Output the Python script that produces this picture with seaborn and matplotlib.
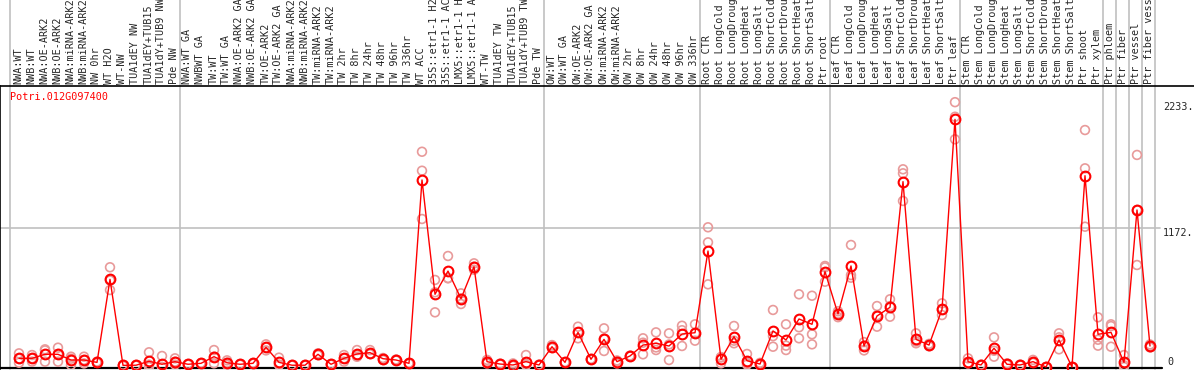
import matplotlib
matplotlib.use("Agg")
import matplotlib.pyplot as plt
import matplotlib.transforms as mtransforms
import numpy as np
import pandas as pd
import seaborn as sns

# sample labels (as shown, already truncated)
labels = [
    "NWA:WT", "NWB:WT", "NWA:OE-ARK2", "NWB:OE-ARK2", "NWA:miRNA-ARK2", "NWB:miRNA-ARK2",
    "NW 0hr", "WT H2O", "WT-NW", "TUA1dEY NW", "TUA1dEY+TUB15", "TUA1dY+TUB9 NW", "Pde NW",
    "NWA:WT GA", "NWBWT GA", "TW:WT", "TW:WT GA", "NWA:OE-ARK2 GA", "NWB:OE-ARK2 GA",
    "TW:OE-ARK2", "TW:OE-ARK2 GA", "NWA:miRNA-ARK2", "NWB:miRNA-ARK2", "TW:miRNA-ARK2",
    "TW:miRNA-ARK2", "TW 2hr", "TW 8hr", "TW 24hr", "TW 48hr", "TW 96hr", "TW 336hr",
    "WT ACC", "35S::etr1-1 H2", "35S::etr1-1 AC", "LMX5::etr1-1 H", "LMX5::etr1-1 A",
    "WT-TW", "TUA1dEY TW", "TUA1dEY+TUB15", "TUA1dY+TUB9 TW", "Pde TW",
    "OW:WT", "OW:WT GA", "OW:OE-ARK2", "OW:OE-ARK2 GA", "OW:miRNA-ARK2", "OW:miRNA-ARK2",
    "OW 2hr", "OW 8hr", "OW 24hr", "OW 48hr", "OW 96hr", "OW 336hr",
    "Root CTR", "Root LongCold", "Root LongDroug", "Root LongHeat", "Root LongSalt",
    "Root ShortCold", "Root ShortDrou", "Root ShortHeat", "Root ShortSalt", "Ptr root",
    "Leaf CTR", "Leaf LongCold", "Leaf LongDroug", "Leaf LongHeat", "Leaf LongSalt",
    "Leaf ShortCold", "Leaf ShortDrou", "Leaf ShortHeat", "Leaf ShortSalt", "Ptr leaf",
    "Stem CTR", "Stem LongCold", "Stem LongDroug", "Stem LongHeat", "Stem LongSalt",
    "Stem ShortCold", "Stem ShortDrou", "Stem ShortHeat", "Stem ShortSalt",
    "Ptr shoot", "Ptr xylem", "Ptr phloem", "Ptr fiber", "Ptr vessel", "Ptr fiber vess",
]

# last index of each sample group (separator drawn after it)
group_ends = [12, 40, 52, 62, 72, 83, 84, 85, 86, 87]

mean_expr = [
    73, 73, 107, 107, 59, 59, 39, 739, 14, 15, 48, 23, 45,
    23, 31, 87, 36, 23, 31, 166, 39, 15, 15, 107, 23, 73, 110, 121, 70, 59, 31,
    1577, 613, 809, 576, 846, 45, 25, 17, 45, 17,
    171, 39, 292, 65, 233, 45, 93, 185, 200, 177, 278, 289,
    978, 65, 256, 53, 25, 304, 228, 405, 360, 804,
    447, 852, 177, 430, 503, 1563, 233, 185, 486, 2088,
    45, 17, 158, 23, 17, 45, 0, 228, 0,
    1613, 276, 292, 39, 1324, 177,
]

rep_expr = [
    [115, 36, 70], [101, 45, 73], [149, 140, 45], [163, 45, 110], [87, 17, 70],
    [87, 30, 60], [45, 35, 39], [841, 649, 730], [14, 10, 18], [15, 12, 18],
    [124, 0, 20], [93, 0, 0], [73, 20, 45],
    [23, 20, 26], [31, 28, 34], [143, 31, 87], [56, 17, 36], [23, 20, 26],
    [31, 28, 34], [191, 140, 166], [79, 17, 20], [15, 12, 18], [15, 12, 18],
    [115, 100, 107], [23, 20, 26], [101, 45, 73], [143, 101, 86], [143, 110, 110],
    [76, 59, 70], [59, 55, 63], [31, 28, 34],
    [1815, 1655, 1248], [734, 461, 630], [936, 748, 750], [621, 531, 576],
    [874, 820, 846], [60, 30, 45], [25, 22, 28], [30, 10, 12], [101, 17, 17],
    [17, 14, 20],
    [185, 160, 171], [39, 36, 42], [340, 242, 292], [65, 62, 68], [326, 135, 240],
    [30, 50, 55], [93, 90, 96], [242, 107, 205], [292, 143, 165], [284, 59, 190],
    [348, 177, 310], [360, 222, 285],
    [1178, 1051, 697], [80, 31, 84], [346, 200, 222], [110, 20, 30], [35, 20, 20],
    [481, 171, 260], [360, 143, 180], [613, 335, 242], [601, 276, 191], [852, 719, 840],
    [470, 420, 450], [1029, 753, 775], [210, 140, 180], [514, 340, 436], [571, 424, 514],
    [1667, 1633, 1400], [284, 200, 215], [195, 175, 185], [537, 438, 483], [2233, 1920, 2110],
    [73, 30, 32], [17, 14, 20], [250, 87, 137], [30, 20, 20], [17, 14, 20],
    [60, 40, 35], [0, 0, 0], [284, 149, 250], [0, 0, 0],
    [1998, 1675, 1183], [419, 180, 230], [360, 171, 345], [101, 0, 15],
    [1788, 860, 1324], [190, 165, 177],
]

gene_id = "Potri.012G097400"
y_ticks = [0, 1172, 2233]

idx = np.arange(len(labels))
mean_df = pd.DataFrame({"x": idx, "y": mean_expr})
rep_df = pd.DataFrame(
    [(i, v) for i, reps in enumerate(rep_expr) for v in reps], columns=["x", "y"]
)

sns.set_style("white")
plt.rcParams["font.family"] = ["DejaVu Sans Mono"]

fig = plt.figure(figsize=(11.94, 3.70), dpi=100)
ax = fig.add_axes([0, 1 / 370, 1, 283 / 370])

k = 139 / 1172  # px per unit
ax.set_xlim(-19 / 13, (1194 - 19) / 13)
ax.set_ylim(-2 / k, 281 / k)

grid_c = "#c0c0c0"
# horizontal grid line at middle tick
htrans = mtransforms.blended_transform_factory(ax.transAxes, ax.transData)
ax.plot([0, 1160 / 1194], [y_ticks[1], y_ticks[1]], color=grid_c, lw=1.2, transform=htrans)

# vertical separators extending into the label band
vtrans = mtransforms.blended_transform_factory(ax.transData, ax.transAxes)
seps = [-0.7] + [g + 0.38 for g in group_ends]
for s in seps:
    ax.plot([s, s], [0, 369 / 283], color=grid_c, lw=1.2, transform=vtrans, clip_on=False)

sns.scatterplot(data=rep_df, x="x", y="y", ax=ax, marker="o", s=40,
                facecolor="none", edgecolor="#e89a9a", linewidth=1.2,
                zorder=3, legend=False)
sns.lineplot(data=mean_df, x="x", y="y", ax=ax, color="#ff0000", lw=1.0,
             marker="o", markersize=7, markerfacecolor="none",
             markeredgecolor="#ff0000", markeredgewidth=1.5, zorder=4)

# sample labels on top
for i, lab in enumerate(labels):
    ax.text(i - 0.05, (369 - 84) / 283, lab, rotation=90, ha="center", va="bottom",
            fontsize=7.3, transform=vtrans, clip_on=False)

# right value labels
ax.text(88.0, y_ticks[2], "2233.", fontsize=7.3, va="top", ha="left")
ax.text(88.0, y_ticks[1], "1172.", fontsize=7.3, va="top", ha="left")
ax.text(88.3, y_ticks[0], "0", fontsize=7.3, va="bottom", ha="left")

ax.text(10 / 1194, (369 - 97) / 283, gene_id, color="#ff0000", fontsize=7.3,
        va="center", ha="left", transform=ax.transAxes)

for sp in ["right", "bottom"]:
    ax.spines[sp].set_visible(False)
ax.spines["left"].set_color("black")
ax.spines["top"].set_color("black")
ax.spines["left"].set_linewidth(1.2)
ax.spines["top"].set_linewidth(1.2)
ax.plot([0, 1162 / 1194], [0.002, 0.002], color="black", lw=1.6,
        transform=ax.transAxes, clip_on=False)
ax.set_xticks([])
ax.set_yticks([])
ax.set_xlabel("")
ax.set_ylabel("")

fig.savefig("out.png", dpi=100)
plt.close(fig)
